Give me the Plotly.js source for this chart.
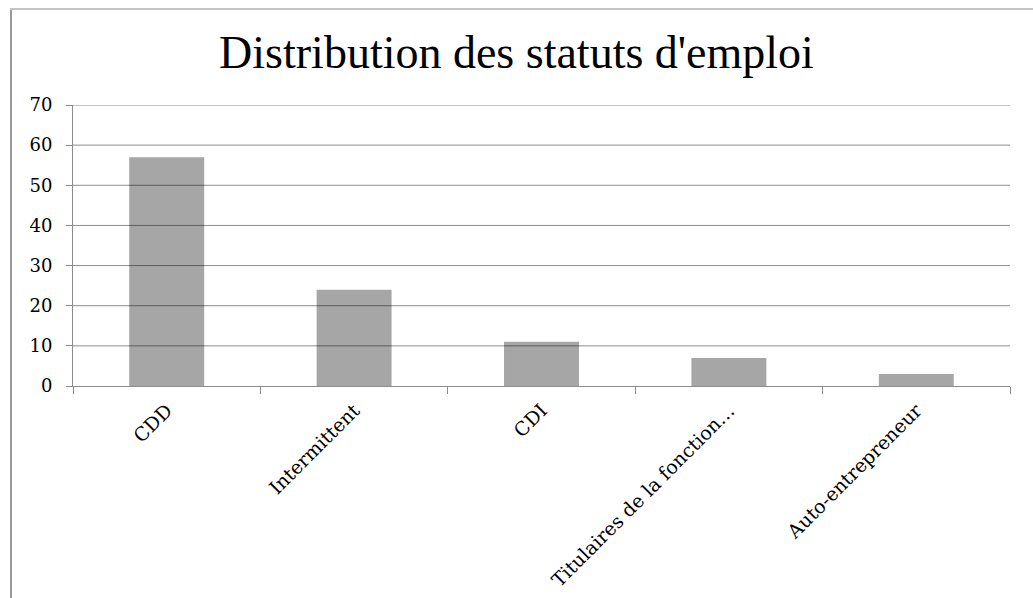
<!DOCTYPE html>
<html>
<head>
<meta charset="utf-8">
<script src="https://cdn.plot.ly/plotly-3.0.1.min.js"></script>
<style>
html,body{margin:0;padding:0;background:#fff;}
#chart{width:1033px;height:598px;}
</style>
</head>
<body>
<div id="chart"></div>
<script>
const categories = ["CDD", "Intermittent", "CDI", "Titulaires de la fonction…", "Auto-entrepreneur"];
const values = [57, 24, 11, 7, 3];
const yTicks = [0, 10, 20, 30, 40, 50, 60, 70];
const chartTitle = "Distribution des statuts d'emploi";

const TITLE_FONT = "Liberation Serif, serif";
const TICK_FONT = "DejaVu Serif, serif";

const trace = {
  type: "bar",
  x: categories,
  y: values,
  marker: {color: "#a6a6a6", line: {width: 0}},
  hoverinfo: "x+y"
};

// gridlines drawn above the bars (as in the reference), one per y tick
const gridShapes = yTicks.filter(v => v > 0).map(v => ({
  type: "line", xref: "paper", yref: "y",
  x0: 0, x1: 1, y0: v, y1: v, layer: "above",
  line: {color: "rgba(0,0,0,0.45)", width: 1}
}));

const layout = {
  width: 1033,
  height: 598,
  paper_bgcolor: "#ffffff",
  plot_bgcolor: "#ffffff",
  margin: {l: 73, r: 23, t: 105, b: 212},
  bargap: 0.6,
  showlegend: false,
  font: {family: TICK_FONT, color: "#000000"},
  title: {
    text: chartTitle,
    font: {family: TITLE_FONT, size: 46, color: "#000000"},
    x: 0.5, xanchor: "center",
    y: 1 - 52 / 598, yref: "container", yanchor: "middle"
  },
  xaxis: {
    type: "category",
    tickangle: -45,
    tickfont: {family: TICK_FONT, size: 19, color: "#000000"},
    showline: true,
    linecolor: "#8c8c8c",
    linewidth: 1,
    ticks: "outside",
    tickson: "boundaries",
    ticklen: 7,
    tickcolor: "#8c8c8c",
    ticklabelstandoff: 5,
    showgrid: false,
    zeroline: false,
    automargin: false
  },
  yaxis: {
    range: [0, 70],
    tickmode: "array",
    tickvals: yTicks,
    tickfont: {family: TICK_FONT, size: 18, color: "#000000"},
    showline: true,
    linecolor: "#8c8c8c",
    linewidth: 1,
    ticks: "outside",
    ticklen: 6,
    tickcolor: "#8c8c8c",
    ticklabelstandoff: 10,
    showgrid: false,
    zeroline: false,
    automargin: false
  },
  shapes: gridShapes.concat([
    {type: "line", xref: "paper", yref: "paper",
     x0: (11 - 73) / 937, x1: (11 - 73) / 937,
     y0: (386 - 9) / 281, y1: (386 - 600) / 281,
     line: {color: "#999999", width: 2}},
    {type: "line", xref: "paper", yref: "paper",
     x0: (10 - 73) / 937, x1: (1040 - 73) / 937,
     y0: (386 - 9) / 281, y1: (386 - 9) / 281,
     line: {color: "#c4c4c4", width: 2}}
  ])
};

Plotly.newPlot("chart", [trace], layout, {displayModeBar: false, staticPlot: true});
</script>
</body>
</html>
